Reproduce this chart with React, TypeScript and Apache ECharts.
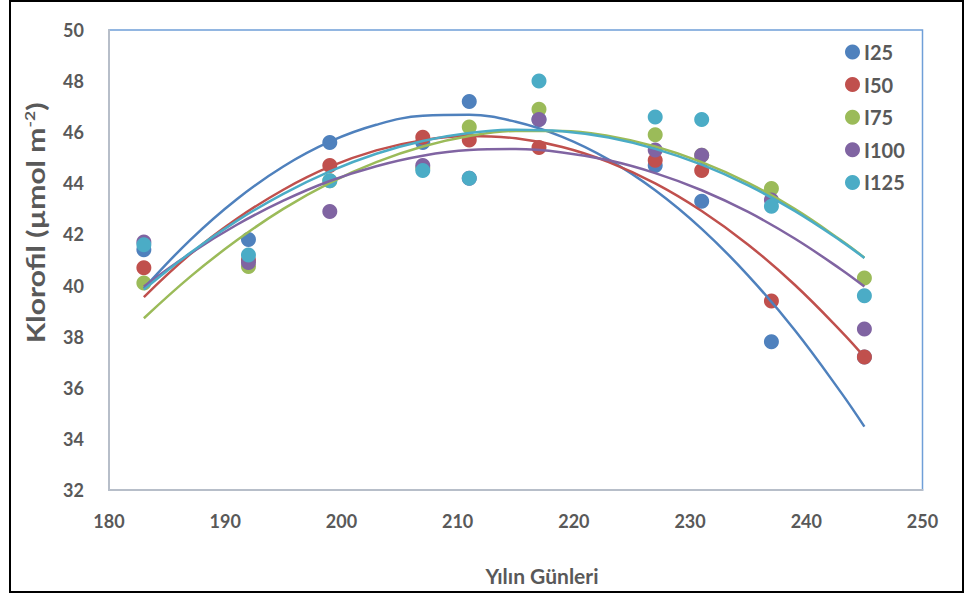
import React, { useEffect, useRef } from "react";
import * as echarts from "echarts";

// Observation days (x) and measured chlorophyll values per treatment
const DAYS = [183, 192, 199, 207, 211, 217, 227, 231, 237, 245];
const I25 = [41.4, 41.8, 45.6, 45.6, 47.2, 46.5, 44.7, 43.3, 37.8, 37.2];
const I50 = [40.7, 41.0, 44.7, 45.8, 45.7, 45.4, 44.9, 44.5, 39.4, 37.2];
const I75 = [40.1, 40.75, 44.1, 44.6, 46.2, 46.9, 45.9, 45.1, 43.8, 40.3];
const I100 = [41.7, 40.9, 42.9, 44.7, 44.2, 46.5, 45.3, 45.1, 43.35, 38.3];
const I125 = [41.6, 41.2, 44.1, 44.5, 44.2, 48.0, 46.6, 46.5, 43.1, 39.6];

// Trend-line values
const FIT_DAYS = [183, 187, 191, 195, 199, 203, 207, 211, 215, 219, 223, 227, 231, 235, 239, 243, 245];
const FIT_I25 = [39.89, 41.79, 43.38, 44.66, 45.63, 46.29, 46.64, 46.68, 46.41, 45.82, 44.93, 43.73, 42.22, 40.39, 38.26, 35.81, 34.48];
const FIT_I50 = [39.55, 41.23, 42.61, 43.75, 44.65, 45.29, 45.69, 45.85, 45.76, 45.42, 44.83, 44.0, 42.92, 41.6, 40.03, 38.21, 37.21];
const FIT_I75 = [38.72, 40.35, 41.77, 43.0, 44.02, 44.83, 45.44, 45.85, 46.05, 46.05, 45.85, 45.44, 44.83, 44.02, 43.0, 41.77, 41.09];
const FIT_I100 = [39.96, 41.26, 42.38, 43.32, 44.09, 44.67, 45.08, 45.3, 45.34, 45.21, 44.9, 44.4, 43.73, 42.88, 41.84, 40.63, 39.96];
const FIT_I125 = [39.84, 41.28, 42.53, 43.59, 44.47, 45.16, 45.66, 45.97, 46.1, 46.04, 45.79, 45.35, 44.73, 43.92, 42.92, 41.74, 41.08];

const NAMES = ["I25", "I50", "I75", "I100", "I125"];
const COLORS = ["#4F81BD", "#C0504D", "#9BBB59", "#8064A2", "#4BACC6"];
const POINTS = [I25, I50, I75, I100, I125];
const FITS = [FIT_I25, FIT_I50, FIT_I75, FIT_I100, FIT_I125];

const X_TITLE = "Yılın Günleri";
const Y_TITLE_MAIN = "Klorofil (µmol m";
const Y_TITLE_SUP = "-2";

const FONT = "Lato, 'Open Sans', sans-serif";
const TEXT_COLOR = "#595959";

export default function App() {
  const ref = useRef<HTMLDivElement>(null);

  useEffect(() => {
    if (!ref.current) return;
    const chart = echarts.init(ref.current, undefined, { renderer: "svg" });

    const series: any[] = [];
    NAMES.forEach((name, i) => {
      series.push({
        name,
        type: "scatter",
        data: DAYS.map((d, k) => [d, POINTS[i][k]]),
        symbol: "circle",
        symbolSize: 15,
        itemStyle: { color: COLORS[i], opacity: 1 },
        z: 2,
      });
    });
    NAMES.forEach((name, i) => {
      series.push({
        name: name + " trend",
        type: "line",
        data: FIT_DAYS.map((d, k) => [d, FITS[i][k]]),
        smooth: 0.4,
        showSymbol: false,
        symbol: "none",
        lineStyle: { color: COLORS[i], width: 2.5 },
        itemStyle: { color: COLORS[i] },
        z: 3,
      });
    });

    chart.setOption({
      animation: false,
      backgroundColor: "#ffffff",
      grid: {
        left: 109,
        right: 43.5,
        top: 30,
        bottom: 106,
        show: true,
        borderColor: "#6f9fd8",
        borderWidth: 1.5,
        backgroundColor: "transparent",
      },
      legend: {
        data: NAMES,
        orient: "vertical",
        left: 845,
        top: 42,
        padding: 0,
        icon: "circle",
        itemWidth: 15,
        itemHeight: 15,
        itemGap: 12.6,
        textStyle: {
          fontFamily: FONT,
          fontWeight: "bold",
          fontSize: 20,
          color: TEXT_COLOR,
          lineHeight: 18,
          padding: [0, 0, 0, -1],
        },
      },
      xAxis: {
        type: "value",
        min: 180,
        max: 250,
        interval: 10,
        axisLine: { show: true, lineStyle: { color: "#b7bec9", width: 2 } },
        axisTick: { show: false },
        splitLine: { show: false },
        axisLabel: {
          margin: 22,
          fontFamily: FONT,
          fontWeight: "bold",
          fontSize: 18,
          color: TEXT_COLOR,
        },
      },
      yAxis: {
        type: "value",
        min: 32,
        max: 50,
        interval: 2,
        axisLine: { show: true, lineStyle: { color: "#b7bec9", width: 2 } },
        axisTick: { show: false },
        splitLine: { show: false },
        axisLabel: {
          margin: 25,
          fontFamily: FONT,
          fontWeight: "bold",
          fontSize: 18,
          color: TEXT_COLOR,
        },
      },
      graphic: [
        {
          type: "rect",
          silent: true,
          shape: { x: 10, y: 1, width: 953, height: 591 },
          style: { fill: "none", stroke: "#000000", lineWidth: 2 },
          z: 100,
        },
        {
          type: "text",
          x: 542,
          y: 575,
          style: {
            text: X_TITLE,
            fontFamily: FONT,
            fontWeight: "bold",
            fontSize: 21,
            fill: TEXT_COLOR,
            align: "center",
            verticalAlign: "middle",
          },
        },
        {
          type: "text",
          x: 36,
          y: 223,
          rotation: Math.PI / 2,
          scaleX: 1.25,
          style: {
            text: "{a|" + Y_TITLE_MAIN + "}{s|" + Y_TITLE_SUP + "}{a|)}",
            align: "center",
            verticalAlign: "middle",
            rich: {
              a: {
                fontFamily: FONT,
                fontWeight: "bold",
                fontSize: 24,
                fill: TEXT_COLOR,
                color: TEXT_COLOR,
                lineHeight: 28,
                verticalAlign: "middle",
              },
              s: {
                fontFamily: FONT,
                fontWeight: "bold",
                fontSize: 14,
                fill: TEXT_COLOR,
                color: TEXT_COLOR,
                lineHeight: 14,
                verticalAlign: "top",
              },
            },
          },
        },
      ],
      series,
    });

    return () => chart.dispose();
  }, []);

  return (
    <div
      ref={ref}
      style={{ position: "fixed", left: 0, top: 0, width: 966, height: 596 }}
    />
  );
}
